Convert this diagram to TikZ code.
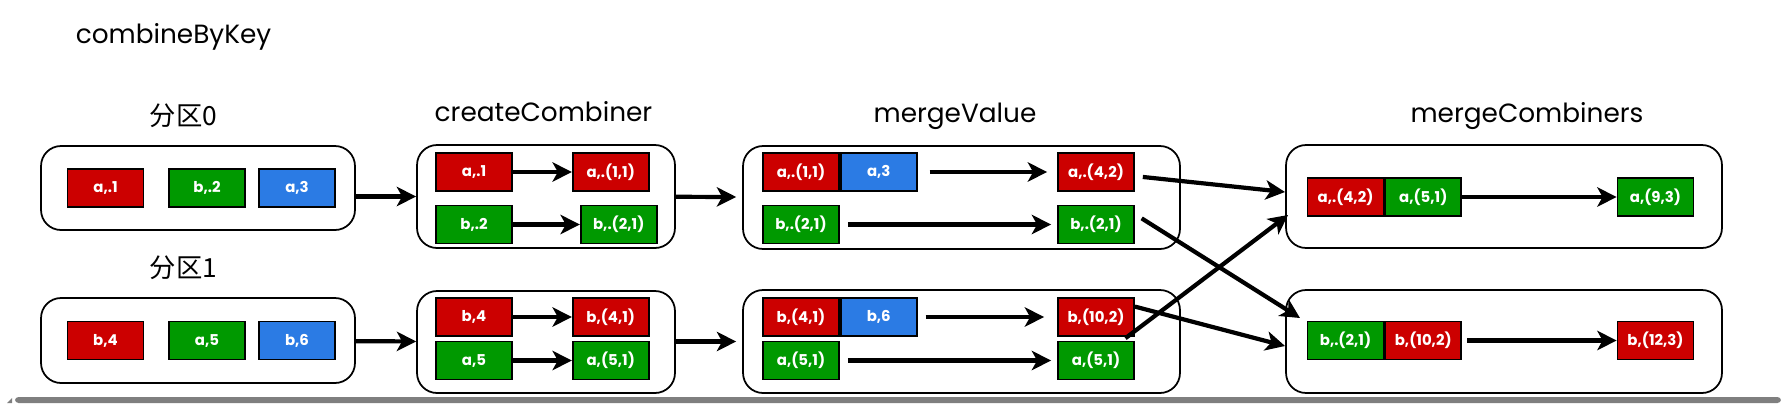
\documentclass[tikz,border=0pt]{standalone}
\usepackage{fontspec}
\setmainfont{Poppins}
\newfontfamily\cjkfont{Noto Sans CJK SC}
\usetikzlibrary{arrows.meta,positioning}

\definecolor{kvred}{HTML}{CC0000}
\definecolor{kvgreen}{HTML}{009900}
\definecolor{kvblue}{HTML}{2B7BE4}
\definecolor{bargray}{HTML}{7F7F7F}

\tikzset{
  kv/.style={draw=black,line width=1pt,minimum width=1.52cm,minimum height=0.76cm,
             inner sep=0pt,text=white,font=\fontsize{8.5}{10}\selectfont\bfseries},
  stage/.style={draw=black,line width=1pt,rounded corners=0.4cm,inner sep=0pt},
  head/.style={font=\fontsize{15}{17}\selectfont,anchor=base,inner sep=0pt},
  cjkhead/.style={font=\cjkfont\fontsize{15}{17}\selectfont,anchor=base,inner sep=0pt},
  flow/.style={-{Stealth[length=11pt,width=11pt,inset=3pt]},line width=2.4pt}
}

\begin{document}
\begin{tikzpicture}[x=0.02cm,y=-0.02cm,node distance=1.18cm]
    \useasboundingbox (0,0) rectangle (1781,403);

    % titles
    \node [head]    (title) at (173.5,43)  {combineByKey};
    \node [cjkhead] (h0)    at (183.5,125) {分区0};
    \node [cjkhead] (h1)    at (183.5,277) {分区1};
    \node [head]    (hc)    at (543.5,121) {createCombiner};
    \node [head]    (hm)    at (955,122)   {mergeValue};
    \node [head]    (hg)    at (1527,122)  {mergeCombiners};

    % partitions
    \node [stage,minimum width=6.28cm,minimum height=1.68cm] (p0) at (198,188)   {};
    \node [stage,minimum width=6.28cm,minimum height=1.70cm] (p1) at (198,340.5) {};
    \node [kv,fill=kvred]   (p0a) at (105.5,188) {a,.1};
    \node [kv,fill=kvgreen] (p0b) at (207,188)   {b,.2};
    \node [kv,fill=kvblue]  (p0c) at (297,188)   {a,3};
    \node [kv,fill=kvred]   (p1a) at (105.5,340.5) {b,4};
    \node [kv,fill=kvgreen] (p1b) at (207,340.5)   {a,5};
    \node [kv,fill=kvblue]  (p1c) at (297,340.5)   {b,6};

    % createCombiner
    \node [stage,minimum width=5.16cm,minimum height=2.06cm] (c0) at (546,196.5) {};
    \node [stage,minimum width=5.16cm,minimum height=2.04cm] (c1) at (546,342)   {};
    \node [kv,fill=kvred]   (c0in1)  at (474,172)   {a,.1};
    \node [kv,fill=kvred]   (c0out1) [right=of c0in1] {a,.(1,1)};
    \node [kv,fill=kvgreen] (c0in2)  at (474,224.5) {b,.2};
    \node [kv,fill=kvgreen] (c0out2) [right=1.34cm of c0in2] {b,.(2,1)};
    \node [kv,fill=kvred]   (c1in1)  at (474,317)   {b,4};
    \node [kv,fill=kvred]   (c1out1) [right=of c1in1] {b,(4,1)};
    \node [kv,fill=kvgreen] (c1in2)  at (474,360.5) {a,5};
    \node [kv,fill=kvgreen] (c1out2) [right=of c1in2] {a,(5,1)};

    % mergeValue
    \node [stage,minimum width=8.74cm,minimum height=2.06cm] (m0) at (961.5,197.5) {};
    \node [stage,minimum width=8.74cm,minimum height=2.06cm] (m1) at (961.5,341.5) {};
    \node [kv,fill=kvred]   (m0in1)  at (801,172) {a,.(1,1)};
    \node [kv,fill=kvblue]  (m0in1b) [right=0pt of m0in1] {a,3};
    \node [kv,fill=kvred]   (m0out1) at (1096,172) {a,.(4,2)};
    \node [kv,fill=kvgreen] (m0in2)  at (801,224.5) {b,.(2,1)};
    \node [kv,fill=kvgreen] (m0out2) at (1096,224.5) {b,.(2,1)};
    \node [kv,fill=kvred]   (m1in1)  at (801,317) {b,(4,1)};
    \node [kv,fill=kvblue]  (m1in1b) [right=0pt of m1in1] {b,6};
    \node [kv,fill=kvred]   (m1out1) at (1096,317) {b,(10,2)};
    \node [kv,fill=kvgreen] (m1in2)  at (801,360.5) {a,(5,1)};
    \node [kv,fill=kvgreen] (m1out2) at (1096,360.5) {a,(5,1)};

    % mergeCombiners
    \node [stage,minimum width=8.72cm,minimum height=2.06cm] (g0) at (1504,196.5) {};
    \node [stage,minimum width=8.72cm,minimum height=2.06cm] (g1) at (1504,341.5) {};
    \node [kv,fill=kvred]   (g0a) at (1345.5,197) {a,.(4,2)};
    \node [kv,fill=kvgreen] (g0b) [right=0pt of g0a] {a,(5,1)};
    \node [kv,fill=kvgreen] (g0c) at (1655.5,197) {a,(9,3)};
    \node [kv,fill=kvgreen] (g1a) at (1345.5,340.5) {b,.(2,1)};
    \node [kv,fill=kvred]   (g1b) [right=0pt of g1a] {b,(10,2)};
    \node [kv,fill=kvred]   (g1c) at (1655.5,340.5) {b,(12,3)};

    \coordinate (g0n1) at (1285,192);
    \coordinate (g0n2) at (1288,215);
    \coordinate (g1n1) at (1300,318);
    \coordinate (g1n2) at (1285,346);

    \path (p0.east |- c0) edge [flow] (c0)
          (p1) edge [flow] (c1)
          (c0in1) edge [flow] (c0out1)
          (c0in2) edge [flow] (c0out2)
          (c1in1) edge [flow] (c1out1)
          (c1in2) edge [flow] (c1out2)
          (c0) edge [flow,shorten >=0.12cm] (m0)
          (c1.east |- m1) edge [flow,shorten >=0.12cm] (m1)
          (m0in1b) edge [flow,shorten <=0.24cm,shorten >=0.2cm] (m0out1)
          (m0in2) edge [flow,shorten <=0.16cm,shorten >=0.12cm] (m0out2)
          (m1in1b) edge [flow,shorten <=0.16cm,shorten >=0.26cm] (m1out1)
          (m1in2) edge [flow,shorten <=0.16cm,shorten >=0.12cm] (m1out2)
          (m0out1) edge [flow,shorten <=0.16cm] (g0n1)
          (m0out2.15) edge [flow,shorten <=0.16cm] (g1n1)
          (m1out1.15) edge [flow] (g1n2)
          (m1out2) edge [flow,shorten <=0.08cm] (g0n2)
          (g0b) edge [flow] (g0c)
          (g1b) edge [flow,shorten <=0.1cm] (g1c);

    % bar
    \fill [bargray,rounded corners=2pt] (15,403) -- (15,397) -- (1781,397) -- (1781,403) -- cycle;
    \fill [bargray] (7,403) -- (12,398) -- (12,403) -- cycle;
\end{tikzpicture}
\end{document}
